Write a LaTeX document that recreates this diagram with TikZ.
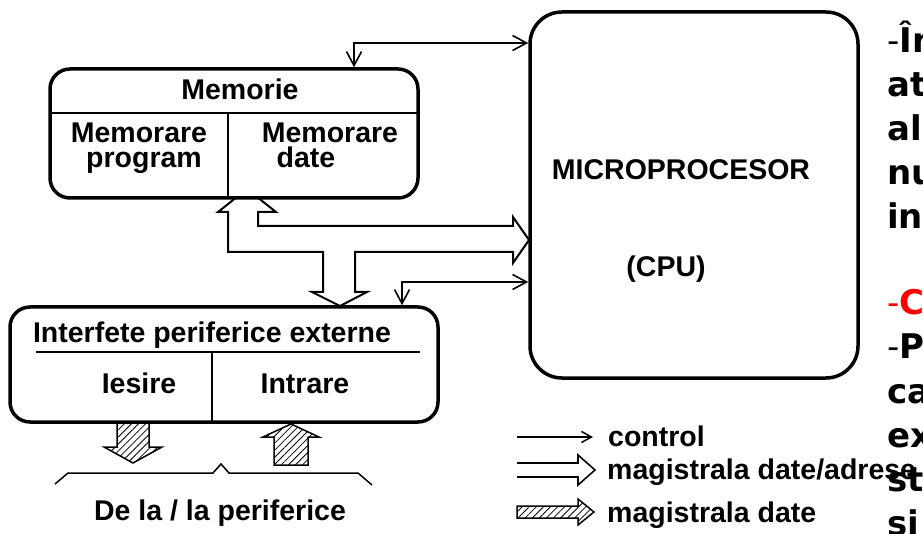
\documentclass[tikz,border=0pt]{standalone}
\usepackage{fontspec}
\setmainfont{Liberation Sans}
\newfontfamily\rfont{DejaVu Sans}
\usetikzlibrary{arrows.meta,patterns.meta}
\definecolor{redtxt}{RGB}{255,0,0}
\tikzset{
  box/.style={draw, line width=3.5pt, fill=white, rounded corners=#1, inner sep=0pt},
  lbl/.style={font=\fontsize{28.5}{30}\selectfont\bfseries, anchor=base, inner sep=0pt},
  leglbl/.style={font=\fontsize{28.5}{30}\selectfont\bfseries, anchor=base west, inner sep=0pt},
  ctrl/.style={line width=1.6pt, {Straight Barb[length=14pt,width=15pt]}-{Straight Barb[length=14pt,width=15pt]}},
  ctrlsmall/.style={line width=1.5pt, -{Straight Barb[length=10pt,width=11pt]}},
  bus/.style={draw, line width=2pt, fill=white, line join=miter},
  hatch/.style={draw, line width=1.5pt, line join=miter, pattern={Lines[angle=45,distance=5pt,line width=0.8pt]}},
  divthick/.style={line width=2.5pt},
  divthin/.style={line width=1.5pt},
  rt/.style={font=\rfont\fontsize{34}{36}\selectfont\bfseries, anchor=base west, inner sep=0pt},
}
\begin{document}
\begin{tikzpicture}[x=1pt,y=-1pt]
\useasboundingbox (0,0) rectangle (923,534);
\clip (0,0) rectangle (923,534);

% data/address bus (one outline)
\draw[bus] (247,189) -- (276,212) -- (258,212) -- (258,226) -- (513,226) -- (513,217)
  -- (529,240) -- (513,263) -- (513,252) -- (355,252) -- (355,292) -- (367,292)
  -- (340,306) -- (312,292) -- (323,292) -- (323,252) -- (228,252) -- (228,212)
  -- (218,212) -- cycle;

% boxes
\node[box=20pt, minimum width=368pt, minimum height=129pt] (mem) at (234,133.5) {};
\node[box=32pt, minimum width=328pt, minimum height=366pt] (cpu) at (694,195) {};
\node[box=20pt, minimum width=428pt, minimum height=115pt] (ifc) at (224,364.5) {};

% memory dividers
\draw[divthick] (50,113) -- (418,113);
\draw[divthin] (228,113) -- (228,197);
% interface dividers
\draw[divthick] (36,352) -- (420,352);
\draw[divthin] (212,352) -- (212,421);

% texts in boxes
\node[lbl] (tmem) at (240,100) {Memorie};
\node[lbl] (tmp1) at (139,143) {Memorare};
\node[lbl] (tmp2) at (144,168) {program};
\node[lbl] (tmd1) at (330,143) {Memorare};
\node[lbl] (tmd2) at (306,168) {date};
\node[lbl] (tcpu1) at (681,180) {MICROPROCESOR};
\node[lbl] (tcpu2) at (666,277) {(CPU)};
\node[lbl] (tifc) at (212,342) {Interfete periferice externe};
\node[lbl] (tout) at (139,393) {Iesire};
\node[lbl] (tin) at (305,393) {Intrare};
\node[lbl] (tper) at (220,520) {De la / la periferice};

% control lines
\coordinate (k1) at (354,43);
\draw[ctrl] (k1 |- mem.north) -- (k1) -- (k1 -| cpu.west);
\coordinate (k2) at (402,282);
\draw[ctrl] (k2 |- ifc.north) -- (k2) -- (k2 -| cpu.west);

% hatched arrows to/from peripherals
\draw[hatch] (117,423) -- (149,423) -- (149,447) -- (162,447) -- (133,463)
  -- (104,447) -- (117,447) -- cycle;
\draw[hatch] (274,465) -- (274,437) -- (263,437) -- (291,424) -- (319,437)
  -- (308,437) -- (308,465) -- cycle;

% brace
\draw[line width=1.5pt] (55,484) -- (68,473) -- (213,473) -- (221,464) -- (229,473) -- (358,473) -- (372,485);

% legend
\coordinate (l0) at (517,437);
\coordinate (l1) at (593,437);
\draw[ctrlsmall] (l0) -- (l1);
\node[leglbl] (lg1) at (608,446) {control};
\draw[line width=1.6pt, line join=miter] (517,463) -- (578,463) -- (578,455) -- (595,470)
  -- (578,485) -- (578,477) -- (517,477);
\node[leglbl] (lg2) at (607,479) {magistrala date/adrese};
\draw[hatch] (517,506) -- (578,506) -- (578,499) -- (594,512) -- (578,525)
  -- (578,518) -- (517,518) -- cycle;
\node[leglbl] (lg3) at (607,522) {magistrala date};

% right-hand text (cut at the edge)
\node[rt] (r1) at (887,53) {{\mdseries -}În};
\node[rt] (r2) at (887,97) {at};
\node[rt] (r3) at (887,141) {al};
\node[rt] (r4) at (887,185) {nu};
\node[rt] (r5) at (887,229) {in};
\node[rt, text=redtxt] (r6) at (887,315) {{\mdseries -}C};
\node[rt] (r7) at (887,358) {{\mdseries -}P};
\node[rt] (r8) at (887,403) {ca};
\node[rt] (r9) at (887,447) {ex};
\node[rt] (r10) at (887,491) {st};
\node[rt] (r11) at (887,535) {si};
\end{tikzpicture}
\end{document}
